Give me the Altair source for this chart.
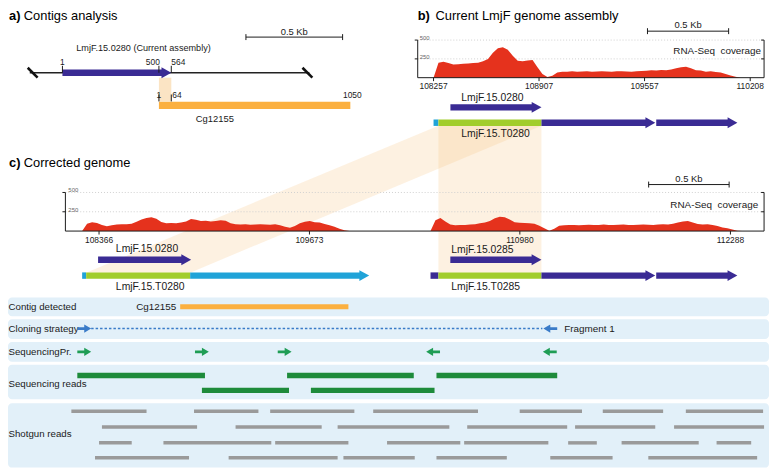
import altair as alt
import pandas as pd

FONT = "Liberation Sans"
INK = "#1a1a1a"
BLUE = "#3a2b94"
GREEN = "#a1cd2c"
CYAN = "#20a3d8"
RED = "#e5321d"
ORANGE = "#fbb040"
SHADE = "#f8c98a"
TRACK_BG = "#e2f0f9"
PRIMER_GREEN = "#1f9d55"
READ_GREEN = "#1e8b3b"
READ_GRAY = "#9a9a9a"
CLONE_BLUE = "#3a7bc8"

# ------------------------------------------------------------------ data
# panel a : positions along the current assembly (bp from gene start)
A_SCAFFOLD = [-168, 1278]
A_BREAKS = [-153, 1268]
A_GENE = [1, 564]
A_GENE_TICKS = [1, 500, 564]
A_GENE_TICK_LABELS = ["1", "500", "564"]
A_CONTIG = [500, 1490]
A_CONTIG_TICKS = [500, 564]
A_CONTIG_TICK_POS = [500, 564, 1490]
A_CONTIG_TICK_LABELS = ["1", "64", "1050"]
A_SCALEBAR = [950, 1450]

# panel b : current LmjF assembly (chromosome bp)
B_AXIS_TICKS = [108257, 108907, 109557, 110208]
B_AXIS_LABELS = ["108257", "108907", "109557", "110208"]
B_COV_START = 108257
B_COV_STEP = 30.5
B_COV = [0, 200, 212, 195, 175, 180, 185, 190, 195, 200, 220, 250, 330, 390, 405,
         370, 290, 225, 220, 228, 235, 140, 50, 8, 25, 70, 78, 80, 84, 80, 82, 85,
         80, 83, 86, 82, 80, 84, 86, 82, 80, 85, 88, 92, 100, 96, 102, 98, 108, 125,
         140, 145, 125, 100, 95, 80, 85, 75, 70, 50, 30, 12, 0]
B_GENE_0280 = [108361, 108922]
B_T0280_UTR = [108257, 108287]
B_T0280_CDS = [108287, 108922]
B_DOWN_START = [108922, 109629]
B_DOWN_END = [109623, 110129]
B_SCALEBAR = [109575, 110075]

# panel c : corrected genome (chromosome bp)
C_AXIS_TICKS = [108366, 109673, 110980, 112288]
C_AXIS_LABELS = ["108366", "109673", "110980", "112288"]
C_COV_STEP = 30.74
C_COV1_START = 108261
C_COV1 = [0, 95, 115, 105, 78, 62, 75, 85, 88, 90, 95, 120, 150, 168, 178, 160, 118,
          100, 105, 100, 112, 125, 158, 148, 130, 135, 125, 132, 140, 135, 100, 90,
          85, 88, 82, 85, 90, 85, 82, 88, 75, 55, 42, 65, 100, 120, 130, 115, 110,
          92, 75, 55, 30, 10, 0]
C_COV2_START = 110425
C_COV2 = [0, 140, 170, 125, 85, 75, 78, 80, 85, 90, 100, 112, 130, 165, 185, 180,
          150, 115, 108, 105, 102, 95, 70, 35, 5, 30, 70, 75, 78, 80, 76, 80, 82, 78,
          80, 84, 80, 78, 82, 85, 80, 78, 82, 86, 82, 80, 85, 88, 84, 95, 110, 125,
          130, 110, 92, 85, 88, 78, 65, 45, 35, 20, 5, 0]
C_GENE_0280 = [108360, 108938]
C_T0280_UTR = [108261, 108286]
C_T0280_CDS = [108286, 108932]
C_T0280_3P = [108932, 110044]
C_GENE_0285 = [110548, 111114]
C_T0285_UTR = [110425, 110474]
C_T0285_CDS = [110474, 111114]
C_DOWN_START = [111114, 111827]
C_DOWN_END = [111821, 112331]
C_SCALEBAR = [111780, 112280]

# links between panels b and c
LINK_TOP = [110474, 111114]
LINK_BOTTOM_0280 = [108286, 108932]
LINK_BOTTOM_0285 = [110474, 111114]

# panel d : tracks along the corrected genome
D_CONTIG = [108870, 109915]
D_CLONING = [108317, 111120]
D_CLONE_FWD = [108274]
D_CLONE_REV = [111169]
D_PRIMER_FWD = [108274, 109005, 109519]
D_PRIMER_REV = [110441, 111166]
D_SEQ1_S = [108231, 109534, 110462]
D_SEQ1_E = [109024, 110321, 111212]
D_SEQ2_S = [109005, 109682]
D_SEQ2_E = [109546, 110450]
D_SG1_S = [108194, 108956, 109429, 110069, 110979, 111495, 112011]
D_SG1_E = [108661, 109356, 109952, 110720, 111366, 111870, 112491]
D_SG2_S = [108384, 109214, 109848, 110653, 111323, 111938]
D_SG2_E = [108975, 109749, 110542, 111274, 111821, 112497]
D_SG3_S = [108366, 108766, 109460, 110155, 110634, 111280, 111612, 112202]
D_SG3_E = [108569, 109436, 109915, 110610, 111157, 111458, 112091, 112417]
D_SG4_S = [108341, 109171, 109884, 110462, 111169, 111778]
D_SG4_E = [108925, 109848, 110327, 110899, 111556, 112454]
TRACK_LABELS = ["Contig detected", "Cloning strategy", "SequencingPr.",
                "Sequencing reads", "Shotgun reads"]
COVERAGE_LABEL = "RNA-Seq\u00a0\u00a0coverage"

# ------------------------------------------------------------------ scales
OFF = 8  # page margin


def V(v):
    return alt.value(v - OFF)


def sc(domain, rng):
    return alt.Scale(domain=domain, range=[r - OFF for r in rng], nice=False, zero=False)


SA = sc([1, 564], [63, 173])
SB = sc([108257, 110208], [438, 758])
SC = sc([108366, 112288], [100, 738])
YB = sc([0, 500], [76, 38])
YC = sc([0, 500], [231, 192])
YL = sc([8, 468], [8, 468])

RIGHT = "M-0.8,-1L1,0L-0.8,1Z"
PRIM_R = "M-1,-0.2L0,-0.2L0,-0.6L1,0L0,0.6L0,0.2L-1,0.2Z"
PRIM_L = "M1,-0.2L0,-0.2L0,-0.6L-1,0L0,0.6L0,0.2L1,0.2Z"

layers = []
ONE = pd.DataFrame({"a": [0]})


def bars(starts, ends, yc, h, color, scale, x2off=0, opacity=1.0):
    df = pd.DataFrame({"s": starts, "e": ends})
    return alt.Chart(df).mark_rect(color=color, x2Offset=x2off, opacity=opacity).encode(
        x=alt.X("s:Q", scale=scale, axis=None), x2="e:Q",
        y=V(yc - h / 2), y2=V(yc + h / 2))


def heads(pos, yc, color, scale, size, shape=RIGHT, xoff=0):
    df = pd.DataFrame({"p": pos})
    return alt.Chart(df).mark_point(shape=shape, size=size, filled=True, opacity=1,
                                    color=color, strokeWidth=0, xOffset=xoff).encode(
        x=alt.X("p:Q", scale=scale, axis=None), y=V(yc))


def arrows(starts, ends, yc, color, scale, body=6.5, head=11):
    r = head / 2
    return [bars(starts, ends, yc, body, color, scale, x2off=-(r + 2)),
            heads(ends, yc, color, scale, head * head, RIGHT, -r)]


def label(t, x, y, size=10, align="left", weight="normal", color=INK):
    return alt.Chart(pd.DataFrame({"t": [t]})).mark_text(
        align=align, baseline="middle", font=FONT, fontSize=size,
        fontWeight=weight, color=color).encode(text="t:N", x=V(x), y=V(y))


def dlabels(pos, texts, y, scale, size=8, align="center", dx=0, color=INK):
    df = pd.DataFrame({"p": pos, "t": texts})
    return alt.Chart(df).mark_text(align=align, baseline="middle", font=FONT,
                                   fontSize=size, dx=dx, color=color).encode(
        x=alt.X("p:Q", scale=scale, axis=None), y=V(y), text="t:N")


def ylabels(vals, texts, x, yscale, size=6, dy=-2, color="#666666"):
    df = pd.DataFrame({"v": vals, "t": texts})
    return alt.Chart(df).mark_text(align="left", baseline="middle", font=FONT,
                                   fontSize=size, dy=dy, color=color).encode(
        y=alt.Y("v:Q", scale=yscale, axis=None), x=V(x), text="t:N")


def hline(x1, x2, y, color=INK, w=1.0, dash=None):
    kw = {"strokeDash": dash} if dash else {}
    return alt.Chart(ONE).mark_rule(color=color, strokeWidth=w, **kw).encode(
        x=V(x1), x2=V(x2), y=V(y))


def vline(x, y1, y2, color=INK, w=1.0):
    return alt.Chart(ONE).mark_rule(color=color, strokeWidth=w).encode(
        x=V(x), y=V(y1), y2=V(y2))


def dhline(span, y, scale, color=INK, w=1.0, dash=None):
    kw = {"strokeDash": dash} if dash else {}
    df = pd.DataFrame({"s": [span[0]], "e": [span[1]]})
    return alt.Chart(df).mark_rule(color=color, strokeWidth=w, strokeCap="butt", **kw).encode(
        x=alt.X("s:Q", scale=scale, axis=None), x2="e:Q", y=V(y))


def dvticks(pos, y1, y2, scale, color=INK, w=1.0):
    df = pd.DataFrame({"p": pos})
    return alt.Chart(df).mark_rule(color=color, strokeWidth=w).encode(
        x=alt.X("p:Q", scale=scale, axis=None), y=V(y1), y2=V(y2))


def ygrid(vals, x1, x2, yscale, color="#cfcfcf", dash=(1, 2), w=1.0):
    df = pd.DataFrame({"v": vals})
    return alt.Chart(df).mark_rule(color=color, strokeWidth=w, strokeDash=list(dash)).encode(
        y=alt.Y("v:Q", scale=yscale, axis=None), x=V(x1), x2=V(x2))


def yticks(vals, x1, x2, yscale, color=INK):
    df = pd.DataFrame({"v": vals})
    return alt.Chart(df).mark_rule(color=color, strokeWidth=1).encode(
        y=alt.Y("v:Q", scale=yscale, axis=None), x=V(x1), x2=V(x2))


def coverage(start, step, vals, xscale, yscale):
    df = pd.DataFrame({"bp": [start + i * step for i in range(len(vals))],
                       "cov": vals, "z": [0] * len(vals)})
    return alt.Chart(df).mark_area(color=RED, opacity=1).encode(
        x=alt.X("bp:Q", scale=xscale, axis=None),
        y=alt.Y("cov:Q", scale=yscale, axis=None), y2="z:Q")


def band(top, bottom, ytop, ybot, scale, opacity=0.26):
    df = pd.DataFrame({"yy": [ytop, ybot], "l": [top[0], bottom[0]], "r": [top[1], bottom[1]]})
    return alt.Chart(df).mark_area(orient="horizontal", color=SHADE, opacity=opacity).encode(
        y=alt.Y("yy:Q", scale=YL, axis=None),
        x=alt.X("l:Q", scale=scale, axis=None), x2="r:Q")


def track_bg(y1, y2):
    return alt.Chart(ONE).mark_rect(color=TRACK_BG, cornerRadius=4).encode(
        x=V(8), x2=V(777), y=V(y1), y2=V(y2))


add = layers.append
ext = layers.extend

# ------------------------------------------------------------------ panel d backgrounds
for y1, y2 in [(298, 317), (320, 340), (343, 363), (366, 401), (405, 470)]:
    add(track_bg(y1, y2))

# ------------------------------------------------------------------ link shading
add(band(LINK_TOP, LINK_BOTTOM_0285, 124.5, 273, SC))
add(band(LINK_TOP, LINK_BOTTOM_0280, 124.5, 273, SC))

# ------------------------------------------------------------------ panel a
add(label("a)", 9, 14, 13, weight="bold", color="#000"))
add(label("Contigs analysis", 24, 14, 13, color="#000"))
add(dhline(A_SCALEBAR, 35, SA))
add(dvticks(A_SCALEBAR, 32, 38, SA))
add(dlabels([sum(A_SCALEBAR) / 2], ["0.5 Kb"], 29.5, SA, 9.5))
add(label("LmjF.15.0280 (Current assembly)", 77, 46, 9.2))
add(bars([A_CONTIG_TICKS[0]], [A_CONTIG_TICKS[1]], 88, 24, SHADE, SA, opacity=0.5))
add(dhline(A_SCAFFOLD, 71, SA, color="#222", w=1.5))
brk = pd.DataFrame({"p": A_BREAKS})
add(alt.Chart(brk).mark_point(shape="M-1,-1L1,1", size=100, filled=False, color="#111",
                              strokeWidth=2.6, opacity=1).encode(
    x=alt.X("p:Q", scale=SA, axis=None), y=V(71)))
ext(arrows([A_GENE[0]], [A_GENE[1]], 71, BLUE, SA))
add(dvticks(A_GENE_TICKS, 64, 71, SA))
add(dlabels(A_GENE_TICKS[:1], A_GENE_TICK_LABELS[:1], 60, SA, 8.5, "center"))
add(dlabels(A_GENE_TICKS[1:2], A_GENE_TICK_LABELS[1:2], 60, SA, 8.5, "right", dx=1))
add(dlabels(A_GENE_TICKS[2:], A_GENE_TICK_LABELS[2:], 60, SA, 8.5, "left", dx=0))
add(bars([A_CONTIG[0]], [A_CONTIG[1]], 104, 7.5, ORANGE, SA))
add(dvticks(A_CONTIG_TICKS, 93, 100, SA))
add(dlabels(A_CONTIG_TICK_POS[:1], A_CONTIG_TICK_LABELS[:1], 94, SA, 8.5, "center"))
add(dlabels(A_CONTIG_TICK_POS[1:2], A_CONTIG_TICK_LABELS[1:2], 94, SA, 8.5, "left", dx=1))
add(dlabels(A_CONTIG_TICK_POS[2:], A_CONTIG_TICK_LABELS[2:], 94, SA, 8.5, "center", dx=2))
add(label("Cg12155", 217, 118, 9.5, align="center"))

# ------------------------------------------------------------------ panel b
add(label("b)", 422, 14, 13, weight="bold", color="#000"))
add(label("Current LmjF genome assembly", 440, 14, 13, color="#000"))
add(dhline(B_SCALEBAR, 29, SB))
add(dvticks(B_SCALEBAR, 26, 32, SB))
add(dlabels([sum(B_SCALEBAR) / 2], ["0.5 Kb"], 23, SB, 9.5))
add(ygrid([250, 500], 422, 772, YB))
add(coverage(B_COV_START, B_COV_STEP, B_COV, SB, YB))
add(vline(422, 38, 76))
add(vline(772, 38, 76))
add(yticks([250, 500], 419, 422, YB))
add(yticks([250, 500], 769, 772, YB))
add(ylabels([250, 500], ["250", "500"], 424, YB))
add(hline(422, 772, 76))
add(dvticks(B_AXIS_TICKS, 76, 79.5, SB))
add(dlabels(B_AXIS_TICKS, B_AXIS_LABELS, 84.5, SB, 8.5))
add(label(COVERAGE_LABEL, 769, 49, 10, align="right"))
add(label("LmjF.15.0280", 466, 96.5, 10.5))
ext(arrows([B_GENE_0280[0]], [B_GENE_0280[1]], 106, BLUE, SB))
add(bars([B_T0280_UTR[0]], [B_T0280_UTR[1]], 121.5, 6.5, CYAN, SB))
add(bars([B_T0280_CDS[0]], [B_T0280_CDS[1]], 121.5, 6.5, GREEN, SB))
ext(arrows(B_DOWN_START, B_DOWN_END, 121.5, BLUE, SB))
add(label("LmjF.15.T0280", 466, 133, 10.5))

# ------------------------------------------------------------------ panel c
add(label("c)", 9, 162, 13, weight="bold", color="#000"))
add(label("Corrected genome", 24, 162, 13, color="#000"))
add(dhline(C_SCALEBAR, 184, SC))
add(dvticks(C_SCALEBAR, 181, 187, SC))
add(dlabels([sum(C_SCALEBAR) / 2], ["0.5 Kb"], 178.5, SC, 9.5))
add(ygrid([250, 500], 66, 772, YC))
add(coverage(C_COV1_START, C_COV_STEP, C_COV1, SC, YC))
add(coverage(C_COV2_START, C_COV_STEP, C_COV2, SC, YC))
add(vline(66, 192, 231))
add(vline(772, 192, 231))
add(yticks([250, 500], 63, 66, YC))
add(yticks([250, 500], 769, 772, YC))
add(ylabels([250, 500], ["250", "500"], 69, YC))
add(hline(66, 772, 231))
add(dvticks(C_AXIS_TICKS, 231, 234.5, SC))
add(dlabels(C_AXIS_TICKS, C_AXIS_LABELS, 240, SC, 8.5))
add(label(COVERAGE_LABEL, 766, 205, 10, align="right"))

add(label("LmjF.15.0280", 117, 249, 10.5))
ext(arrows([C_GENE_0280[0]], [C_GENE_0280[1]], 260, BLUE, SC))
add(bars([C_T0280_UTR[0]], [C_T0280_UTR[1]], 276, 6.5, CYAN, SC))
add(bars([C_T0280_CDS[0]], [C_T0280_CDS[1]], 276, 6.5, GREEN, SC))
ext(arrows([C_T0280_3P[0]], [C_T0280_3P[1]], 276, CYAN, SC))
add(label("LmjF.15.T0280", 117, 288, 10.5))

add(label("LmjF.15.0285", 456, 250, 10.5))
ext(arrows([C_GENE_0285[0]], [C_GENE_0285[1]], 260, BLUE, SC))
add(bars([C_T0285_UTR[0]], [C_T0285_UTR[1]], 276, 6.5, BLUE, SC))
add(bars([C_T0285_CDS[0]], [C_T0285_CDS[1]], 276, 6.5, GREEN, SC))
ext(arrows(C_DOWN_START, C_DOWN_END, 276, BLUE, SC))
add(label("LmjF.15.T0285", 456, 288, 10.5))

# ------------------------------------------------------------------ panel d
for txt, y in zip(TRACK_LABELS, [307.5, 329.5, 353, 386, 436]):
    add(label(txt, 8.5, y, 9.8))
add(label("Cg12155", 178, 307.5, 10, align="right"))
add(bars([D_CONTIG[0]], [D_CONTIG[1]], 307.5, 5, ORANGE, SC))

add(dhline(D_CLONING, 329.5, SC, color=CLONE_BLUE, w=1.6, dash=[2.5, 2]))
add(heads(D_CLONE_FWD, 329.5, CLONE_BLUE, SC, 196, PRIM_R))
add(heads(D_CLONE_REV, 329.5, CLONE_BLUE, SC, 196, PRIM_L))
add(label("Fragment 1", 570, 329.5, 10))

add(heads(D_PRIMER_FWD, 353, PRIMER_GREEN, SC, 196, PRIM_R))
add(heads(D_PRIMER_REV, 353, PRIMER_GREEN, SC, 196, PRIM_L))

add(bars(D_SEQ1_S, D_SEQ1_E, 377, 5.5, READ_GREEN, SC))
add(bars(D_SEQ2_S, D_SEQ2_E, 392, 5.5, READ_GREEN, SC))

for s, e, y in [(D_SG1_S, D_SG1_E, 413), (D_SG2_S, D_SG2_E, 429),
                (D_SG3_S, D_SG3_E, 445), (D_SG4_S, D_SG4_E, 460)]:
    add(bars(s, e, y, 3.5, READ_GRAY, SC))

chart = alt.layer(*layers).resolve_scale(x="independent", y="independent").properties(
    width=771, height=460, padding=0,
    autosize=alt.AutoSizeParams(type="none"),
).configure_view(stroke=None)

chart.save("out.html", embed_options={"renderer": "svg", "actions": False})
